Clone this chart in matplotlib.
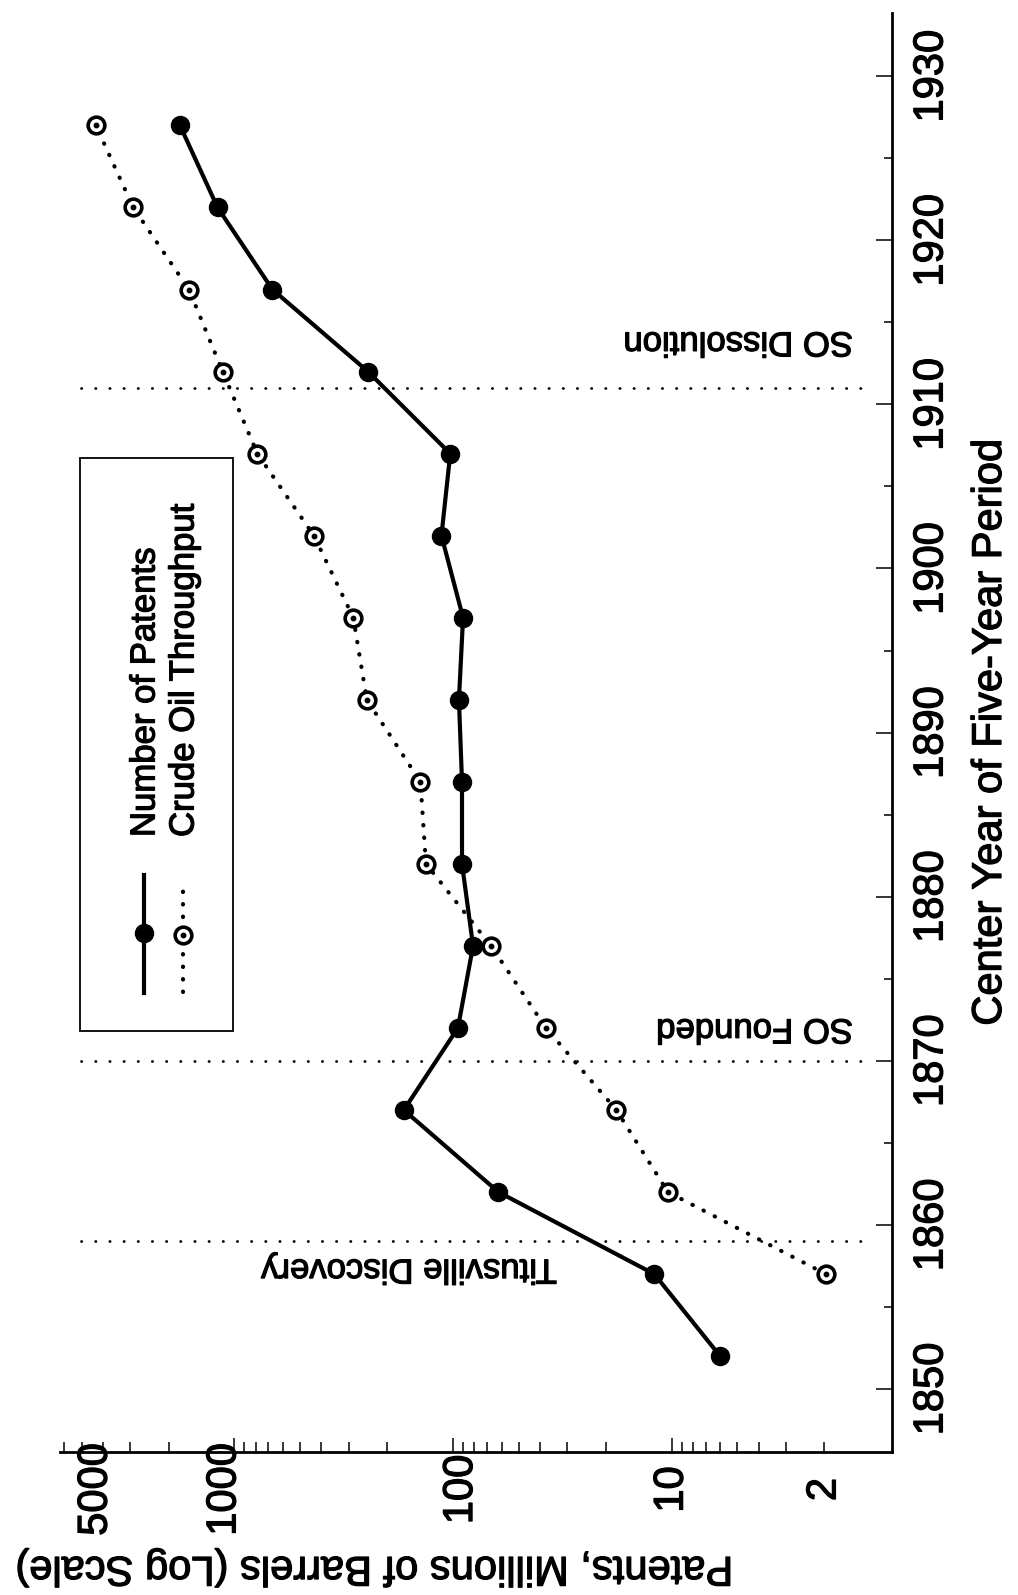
import numpy as np
import matplotlib
matplotlib.use("Agg")
import matplotlib.pyplot as plt
from matplotlib.patches import Rectangle
from matplotlib.transforms import ScaledTranslation
import matplotlib.patheffects as pe

plt.rcParams['font.family'] = ['Liberation Sans', 'DejaVu Sans']

# ---- data ----
years = [1852, 1857, 1862, 1867, 1872, 1877, 1882, 1887, 1892, 1897,
         1902, 1907, 1912, 1917, 1922, 1927]
patents = [6.0, 12.0, 62, 168, 95, 81, 91, 91, 94, 90, 113, 103, 245, 670, 1195, 1775]
crude_years = [1857, 1862, 1867, 1872, 1877, 1882, 1887, 1892, 1897,
               1902, 1907, 1912, 1917, 1922, 1927]
crude = [1.97, 10.4, 17.9, 37.6, 67, 133, 141, 248, 286, 433, 786, 1132, 1615, 2905, 4305]

event_years = [1859, 1870, 1911]
event_labels = ["Titusville Discovery", "SO Founded", "SO Dissolution"]

value_major = [10, 100, 1000]
value_major_labels = ["10", "100", "1000"]
value_extra = {2: "2", 5000: "5000"}
year_major = [1850, 1860, 1870, 1880, 1890, 1900, 1910, 1920, 1930]
year_minor = [1855, 1865, 1875, 1885, 1895, 1905, 1915, 1925]

legend_labels = ["Number of Patents", "Crude Oil Throughput"]
xlabel = "Patents, Millions of Barrels (Log Scale)"
ylabel = "Center Year of Five-Year Period"

# ---- figure ----
W, H = 1018, 1595
fig = plt.figure(figsize=(W / 100, H / 100), dpi=100)
L, R, T, B = 60, 892, 13, 1452
ax = fig.add_axes([L / W, 1 - B / H, (R - L) / W, (B - T) / H])

def fx(px):
    return (px - L) / (R - L)

def fy(py):
    return (B - py) / (B - T)

heavy = [pe.withStroke(linewidth=0.9, foreground='black')]

ax.set_xscale('log')
ax.set_xlim(6280, 0.982)
ax.set_ylim(1846.16, 1933.85)

for s in ['top', 'left']:
    ax.spines[s].set_visible(False)
for s in ['right', 'bottom']:
    ax.spines[s].set_linewidth(2.0)

# value axis ticks
minor_vals = []
for dec in [1, 10, 100, 1000]:
    for m in range(2, 10):
        v = m * dec
        if v <= 6200:
            minor_vals.append(v)
minor_labels = [value_extra.get(v, "") for v in minor_vals]
ax.set_xticks(value_major, value_major_labels)
ax.set_xticks(minor_vals, minor_labels, minor=True)
ax.tick_params(axis='x', which='both', direction='in', labelsize=30,
               labelrotation=90, pad=27, width=1.1)
ax.tick_params(axis='x', which='major', length=10)
ax.tick_params(axis='x', which='minor', length=7.5)
# small hand offsets of the printed labels (pixels)
label_shift = {1000: -10, 100: 8, 5000: 14}
for t in ax.xaxis.get_major_ticks() + ax.xaxis.get_minor_ticks():
    t.label1.set_verticalalignment('center')
    t.label1.set_path_effects(heavy)
    loc = t.get_loc()
    if loc in label_shift:
        dx = label_shift[loc] / 100.0
        t.label1.set_transform(t.label1.get_transform()
                               + ScaledTranslation(dx, 0, fig.dpi_scale_trans))

# year axis ticks
ax.yaxis.tick_right()
ax.set_yticks(year_major, [str(y) for y in year_major])
ax.set_yticks(year_minor, minor=True)
ax.tick_params(axis='y', which='both', direction='in', labelsize=30,
               labelrotation=90, pad=14, width=1.1, left=False, right=True)
ax.tick_params(axis='y', which='major', length=11.5)
ax.tick_params(axis='y', which='minor', length=5.5)
for t in ax.yaxis.get_major_ticks():
    t.label2.set_verticalalignment('center')
    t.label2.set_horizontalalignment('left')
    t.label2.set_path_effects(heavy)

# axis titles
ax.set_xlabel(xlabel, fontsize=30, rotation=180)
ax.xaxis.set_label_coords(fx(375), fy(1568))
ax.xaxis.label.set_horizontalalignment('center')
ax.xaxis.label.set_verticalalignment('center')
ax.xaxis.label.set_path_effects(heavy)

ax.yaxis.set_label_position('right')
ax.set_ylabel(ylabel, fontsize=30, rotation=90)
ax.yaxis.set_label_coords(fx(990), 0.5)
ax.yaxis.label.set_rotation_mode('default')
ax.yaxis.label.set_horizontalalignment('center')
ax.yaxis.label.set_verticalalignment('center')
ax.yaxis.label.set_path_effects(heavy)

# event lines
for yr in event_years:
    ax.axhline(yr, xmin=fx(81), xmax=fx(863), color='black', lw=2.0,
               linestyle=(0, (0.1, 5)), dash_capstyle='round', zorder=1)

# annotations (rotated 180)
ann_pos = {"Titusville Discovery": (33.5, 1857.3),
           "SO Founded": (1.48, 1871.94),
           "SO Dissolution": (1.48, 1913.8)}
for lab in event_labels:
    x, y = ann_pos[lab]
    ax.text(x, y, lab, fontsize=25, rotation=180, rotation_mode='anchor',
            ha='left', va='center', path_effects=heavy)

# data
pat_style = dict(color='black', lw=3.0, marker='o', ms=13, mfc='black', mec='black')
crude_style = dict(color='black', lw=3.0, linestyle=(0, (0.1, 2.9)),
                   dash_capstyle='round', marker='o', ms=12, mfc='white',
                   mec='black', mew=2.6)
ax.plot(patents, years, zorder=3, **pat_style)
ax.plot(crude, crude_years, zorder=4, **crude_style)
ax.plot(crude, crude_years, ls='none', marker='o', ms=3.2, color='black', zorder=5)

# legend (drawn manually, rotated)
ax.add_patch(Rectangle((fx(80), fy(1031)), fx(233) - fx(80), fy(458) - fy(1031),
                       transform=ax.transAxes, fill=False, lw=1.3,
                       edgecolor='black', zorder=6))
hx1, hx2 = fx(144), fx(183)
ax.plot([hx1, hx1], [fy(993), fy(875)], transform=ax.transAxes, color='black',
        lw=3.0, zorder=7)
ax.plot([hx1], [fy(933)], transform=ax.transAxes, ls='none', marker='o', ms=13,
        color='black', zorder=8)
ax.plot([hx2, hx2], [fy(992), fy(885)], transform=ax.transAxes, color='black',
        lw=3.0, linestyle=(0, (0.1, 2.9)), dash_capstyle='round', zorder=7)
ax.plot([hx2], [fy(935)], transform=ax.transAxes, ls='none', marker='o', ms=12,
        mfc='white', mec='black', mew=2.6, zorder=8)
ax.plot([hx2], [fy(935)], transform=ax.transAxes, ls='none', marker='o', ms=3.2,
        color='black', zorder=9)
ax.text(fx(145), fy(837), legend_labels[0], transform=ax.transAxes, fontsize=25,
        rotation=90, rotation_mode='anchor', ha='left', va='center', zorder=9,
        path_effects=heavy)
ax.text(fx(184), fy(837), legend_labels[1], transform=ax.transAxes, fontsize=25,
        rotation=90, rotation_mode='anchor', ha='left', va='center', zorder=9,
        path_effects=heavy)

fig.savefig("out.png", dpi=100)
